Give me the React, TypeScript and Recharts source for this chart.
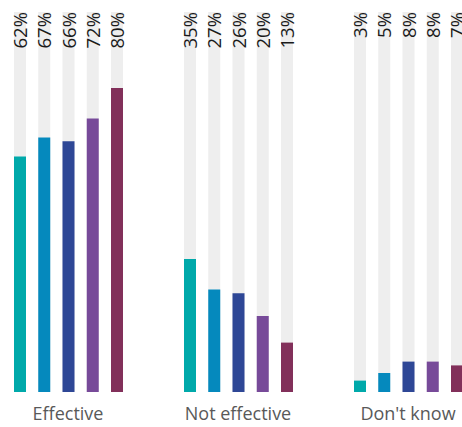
import { Bar, BarChart, LabelList, XAxis, YAxis } from 'recharts'

const categories = ['Effective', 'Not effective', "Don't know"]
const seriesKeys = ['s1', 's2', 's3', 's4', 's5']
const seriesColors = ['#00a9aa', '#0589bd', '#2e4796', '#774a99', '#82305a']
const s1 = [62, 35, 3]
const s2 = [67, 27, 5]
const s3 = [66, 26, 8]
const s4 = [72, 20, 8]
const s5 = [80, 13, 7]
const seriesValues = [s1, s2, s3, s4, s5]

const data = categories.map((name, i) => {
  const row: Record<string, string | number> = { name }
  seriesKeys.forEach((k, j) => {
    row[k] = seriesValues[j][i]
  })
  return row
})

const TOP = 12

function TopLabel(props: any) {
  const { x, width, value } = props
  const ax = x + width + 1
  return (
    <text
      x={ax}
      y={TOP}
      transform={`rotate(-90, ${ax}, ${TOP})`}
      textAnchor="end"
      fontSize={18.5}
      fontFamily="'Open Sans', sans-serif"
      fill="#1a1a1a"
    >
      {value}%
    </text>
  )
}

function CategoryTick(props: any) {
  const { x, payload } = props
  return (
    <text
      x={x}
      y={420}
      textAnchor="middle"
      fontSize={18}
      fontFamily="'Open Sans', sans-serif"
      fill="#595959"
    >
      {payload.value}
    </text>
  )
}

export default function App() {
  return (
    <div
      style={{
        position: 'fixed',
        left: 0,
        top: 0,
        width: 462,
        height: 427,
        overflow: 'hidden',
        background: '#fff',
      }}
    >
      <div style={{ position: 'absolute', left: -17, top: 0 }}>
        <BarChart
          width={510}
          height={427}
          data={data}
          margin={{ top: TOP, right: 0, bottom: 0, left: 0 }}
          barSize={12}
          barGap={12.25}
          barCategoryGap={30.5}
        >
          <XAxis
            dataKey="name"
            axisLine={false}
            tickLine={false}
            tick={<CategoryTick />}
            height={35}
            interval={0}
          />
          <YAxis hide domain={[0, 100]} />
          {seriesKeys.map((k, j) => (
            <Bar
              key={k}
              dataKey={k}
              fill={seriesColors[j]}
              background={{ fill: '#eeeeee' }}
              isAnimationActive={false}
            >
              <LabelList dataKey={k} content={<TopLabel />} />
            </Bar>
          ))}
        </BarChart>
      </div>
    </div>
  )
}
